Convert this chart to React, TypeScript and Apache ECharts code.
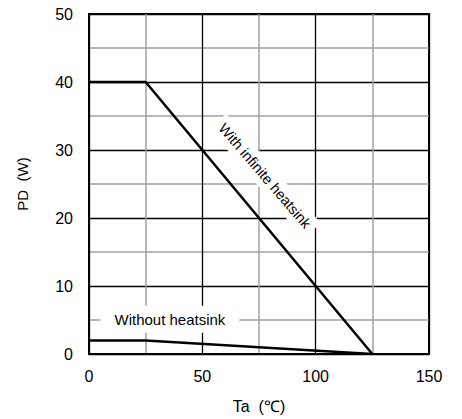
import React, { useEffect, useRef } from "react";
import * as echarts from "echarts";

const taInfinite = [0, 25, 125];
const pdInfinite = [40, 40, 0];
const taNoSink = [0, 25, 125];
const pdNoSink = [2, 2, 0];
const labelInfinite = "With infinite heatsink";
const labelNoSink = "Without heatsink";
const xName = "Ta  (\u2103)";
const yName = "PD  (W)";

const FONT = "'Liberation Sans', Arial, sans-serif";

export default function App() {
  const ref = useRef<HTMLDivElement>(null);
  useEffect(() => {
    if (!ref.current) return;
    const chart = echarts.init(ref.current, undefined, { renderer: "svg" });
    chart.setOption({
      animation: false,
      grid: {
        left: 89,
        right: 33,
        top: 14,
        bottom: 64,
        show: true,
        borderColor: "#000",
        borderWidth: 2,
        backgroundColor: "#fff",
      },
      xAxis: {
        type: "value",
        min: 0,
        max: 150,
        interval: 50,
        name: xName,
        nameLocation: "middle",
        nameGap: 44,
        nameTextStyle: { color: "#000", fontSize: 16, fontFamily: FONT },
        axisLine: { show: true, lineStyle: { color: "#000", width: 2 } },
        axisTick: { show: false },
        axisLabel: { color: "#000", fontSize: 16, fontFamily: FONT, margin: 14 },
        splitLine: { show: true, lineStyle: { color: "#000", width: 1.3 } },
        minorTick: { show: false, splitNumber: 2 },
        minorSplitLine: { show: true, lineStyle: { color: "#a0a0a0", width: 1.5 } },
      },
      yAxis: {
        type: "value",
        min: 0,
        max: 50,
        interval: 10,
        name: yName,
        nameLocation: "middle",
        nameGap: 59,
        nameRotate: 90,
        nameTextStyle: { color: "#000", fontSize: 15, fontFamily: FONT },
        axisLine: { show: true, lineStyle: { color: "#000", width: 2 } },
        axisTick: { show: false },
        axisLabel: { color: "#000", fontSize: 16, fontFamily: FONT, margin: 16 },
        splitLine: { show: true, lineStyle: { color: "#000", width: 1.3 } },
        minorTick: { show: false, splitNumber: 2 },
        minorSplitLine: { show: true, lineStyle: { color: "#a0a0a0", width: 1.5 } },
      },
      series: [
        {
          type: "line",
          data: taInfinite.map((t, i) => [t, pdInfinite[i]]),
          symbol: "none",
          lineStyle: { color: "#000", width: 2.5 },
          z: 5,
        },
        {
          type: "line",
          data: taNoSink.map((t, i) => [t, pdNoSink[i]]),
          symbol: "none",
          lineStyle: { color: "#000", width: 2.5 },
          z: 5,
        },
      ],
    });
    const p1 = chart.convertToPixel({ gridIndex: 0 }, [77.6, 26.2]) as number[];
    const p2 = chart.convertToPixel({ gridIndex: 0 }, [35.7, 5.1]) as number[];
    chart.setOption({
      graphic: [
        {
          type: "text",
          x: p1[0],
          y: p1[1],
          rotation: -0.86,
          z: 10,
          style: {
            text: labelInfinite,
            x: 0,
            y: 0,
            align: "center",
            verticalAlign: "middle",
            fontSize: 14.5,
            fontFamily: FONT,
            fill: "#000",
            backgroundColor: "#fff",
            padding: [4, 6],
          },
        },
        {
          type: "text",
          x: p2[0],
          y: p2[1],
          z: 10,
          style: {
            text: labelNoSink,
            x: 0,
            y: 0,
            align: "center",
            verticalAlign: "middle",
            fontSize: 15,
            fontFamily: FONT,
            fill: "#000",
            backgroundColor: "#fff",
            padding: [6, 14],
          },
        },
      ],
    });
    return () => chart.dispose();
  }, []);
  return (
    <div
      ref={ref}
      style={{ position: "absolute", left: 0, top: 0, width: 462, height: 419, background: "#fff" }}
    />
  );
}
